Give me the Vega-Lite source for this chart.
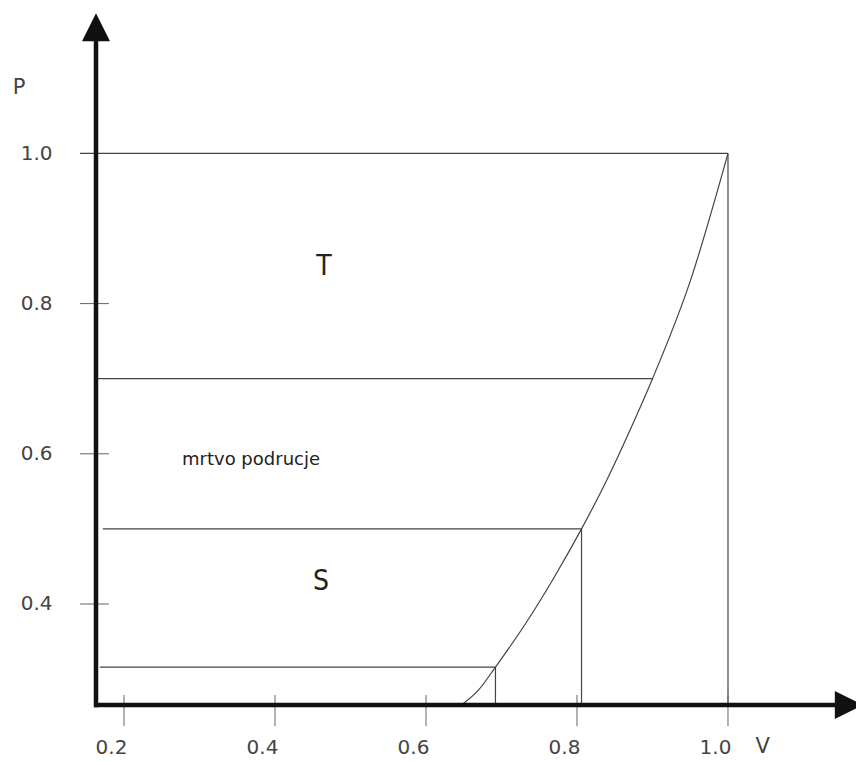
{
  "$schema": "https://vega.github.io/schema/vega-lite/v6.json",
  "width": 760,
  "height": 705,
  "autosize": {"type": "none"},
  "padding": {"left": 96, "top": 0, "right": 0, "bottom": 56},
  "background": "white",
  "config": {"view": {"stroke": null}},
  "datasets": {
    "axes": [
      {"v1": 0.16291, "p1": 0.2625, "v2": 0.16291, "p2": 1.16},
      {"v1": 0.1603, "p1": 0.26551, "v2": 1.155, "p2": 0.26551}
    ],
    "lines": [
      {"v1": 0.1417, "p1": 1.0, "v2": 1.0, "p2": 1.0},
      {"v1": 1.0, "p1": 1.0, "v2": 1.0, "p2": 0.26551},
      {"v1": 0.16291, "p1": 0.7, "v2": 0.9, "p2": 0.7},
      {"v1": 0.172, "p1": 0.5, "v2": 0.806, "p2": 0.5},
      {"v1": 0.806, "p1": 0.5, "v2": 0.806, "p2": 0.26551},
      {"v1": 0.168, "p1": 0.316, "v2": 0.692, "p2": 0.316},
      {"v1": 0.692, "p1": 0.316, "v2": 0.692, "p2": 0.26551}
    ],
    "ticks": [
      {"v1": 0.1417, "p1": 0.4, "v2": 0.18, "p2": 0.4},
      {"v1": 0.1417, "p1": 0.6, "v2": 0.18, "p2": 0.6},
      {"v1": 0.1417, "p1": 0.8, "v2": 0.18, "p2": 0.8},
      {"v1": 0.2, "p1": 0.2788, "v2": 0.2, "p2": 0.2375},
      {"v1": 0.4, "p1": 0.2788, "v2": 0.4, "p2": 0.2375},
      {"v1": 0.6, "p1": 0.2788, "v2": 0.6, "p2": 0.2375},
      {"v1": 0.8, "p1": 0.2788, "v2": 0.8, "p2": 0.2375},
      {"v1": 1.0, "p1": 0.2788, "v2": 1.0, "p2": 0.2375}
    ],
    "curve": [
      {"v": 0.647, "p": 0.2655},
      {"v": 0.67, "p": 0.286},
      {"v": 0.692, "p": 0.316},
      {"v": 0.73, "p": 0.371},
      {"v": 0.77, "p": 0.436},
      {"v": 0.806, "p": 0.5},
      {"v": 0.84, "p": 0.566},
      {"v": 0.87, "p": 0.631},
      {"v": 0.9, "p": 0.7},
      {"v": 0.95, "p": 0.83},
      {"v": 1.0, "p": 1.0}
    ],
    "arrows": [
      {"v": 0.16291, "p": 1.168, "dir": "up"},
      {"v": 1.16, "p": 0.26551, "dir": "right"}
    ],
    "regions": [
      {"v": 0.4649, "p": 0.8487, "label": "T"},
      {"v": 0.4609, "p": 0.4293, "label": "S"}
    ],
    "note": [
      {"v": 0.2768, "p": 0.585, "label": "mrtvo podrucje"}
    ],
    "axisNames": [
      {"v": 0.061, "p": 1.0866, "label": "P"},
      {"v": 1.046, "p": 0.2096, "label": "V"}
    ]
  },
  "encoding": {
    "x": {
      "field": "v1", "type": "quantitative",
      "scale": {"domain": [0.16291, 1.16954], "nice": false, "zero": false},
      "axis": {
        "orient": "bottom", "values": [0.2, 0.4, 0.6, 0.8, 1.0], "format": ".1f",
        "domain": false, "ticks": false, "grid": false, "title": null,
        "labelFont": "DejaVu Sans", "labelFontSize": 20, "labelColor": "#444",
        "labelPadding": 32, "labelOffset": -13
      }
    },
    "y": {
      "field": "p1", "type": "quantitative",
      "scale": {"domain": [0.26551, 1.20426], "nice": false, "zero": false},
      "axis": {
        "orient": "left", "values": [0.4, 0.6, 0.8, 1.0], "format": ".1f",
        "domain": false, "ticks": false, "grid": false, "title": null,
        "labelFont": "DejaVu Sans", "labelFontSize": 20, "labelColor": "#444",
        "labelPadding": 44
      }
    }
  },
  "layer": [
    {
      "data": {"name": "lines"},
      "mark": {"type": "rule", "color": "#444", "strokeWidth": 1.2},
      "encoding": {"x2": {"field": "v2"}, "y2": {"field": "p2"}}
    },
    {
      "data": {"name": "ticks"},
      "mark": {"type": "rule", "color": "#666", "strokeWidth": 1},
      "encoding": {"x2": {"field": "v2"}, "y2": {"field": "p2"}}
    },
    {
      "data": {"name": "curve"},
      "mark": {"type": "line", "color": "#444", "strokeWidth": 1.2, "interpolate": "monotone"},
      "encoding": {
        "x": {"field": "v", "type": "quantitative"},
        "y": {"field": "p", "type": "quantitative"}
      }
    },
    {
      "data": {"name": "axes"},
      "mark": {"type": "rule", "color": "#111", "strokeWidth": 4.5},
      "encoding": {"x2": {"field": "v2"}, "y2": {"field": "p2"}}
    },
    {
      "data": {"name": "arrows"},
      "mark": {"type": "point", "filled": true, "color": "#111", "opacity": 1, "size": 784},
      "encoding": {
        "x": {"field": "v", "type": "quantitative"},
        "y": {"field": "p", "type": "quantitative"},
        "shape": {
          "field": "dir", "type": "nominal",
          "scale": {"domain": ["up", "right"], "range": ["M0,-1L1,1L-1,1Z", "M1,0L-1,-1L-1,1Z"]},
          "legend": null
        }
      }
    },
    {
      "data": {"name": "regions"},
      "mark": {"type": "text", "font": "DejaVu Sans Condensed, Liberation Sans, sans-serif", "fontSize": 28, "color": "#222", "align": "center", "baseline": "middle"},
      "encoding": {
        "x": {"field": "v", "type": "quantitative"},
        "y": {"field": "p", "type": "quantitative"},
        "text": {"field": "label"}
      }
    },
    {
      "data": {"name": "note"},
      "mark": {"type": "text", "font": "DejaVu Sans", "fontSize": 18, "color": "#222", "align": "left", "baseline": "alphabetic"},
      "encoding": {
        "x": {"field": "v", "type": "quantitative"},
        "y": {"field": "p", "type": "quantitative"},
        "text": {"field": "label"}
      }
    },
    {
      "data": {"name": "axisNames"},
      "mark": {"type": "text", "font": "DejaVu Sans", "fontSize": 21, "color": "#444", "align": "center", "baseline": "middle"},
      "encoding": {
        "x": {"field": "v", "type": "quantitative"},
        "y": {"field": "p", "type": "quantitative"},
        "text": {"field": "label"}
      }
    }
  ]
}
